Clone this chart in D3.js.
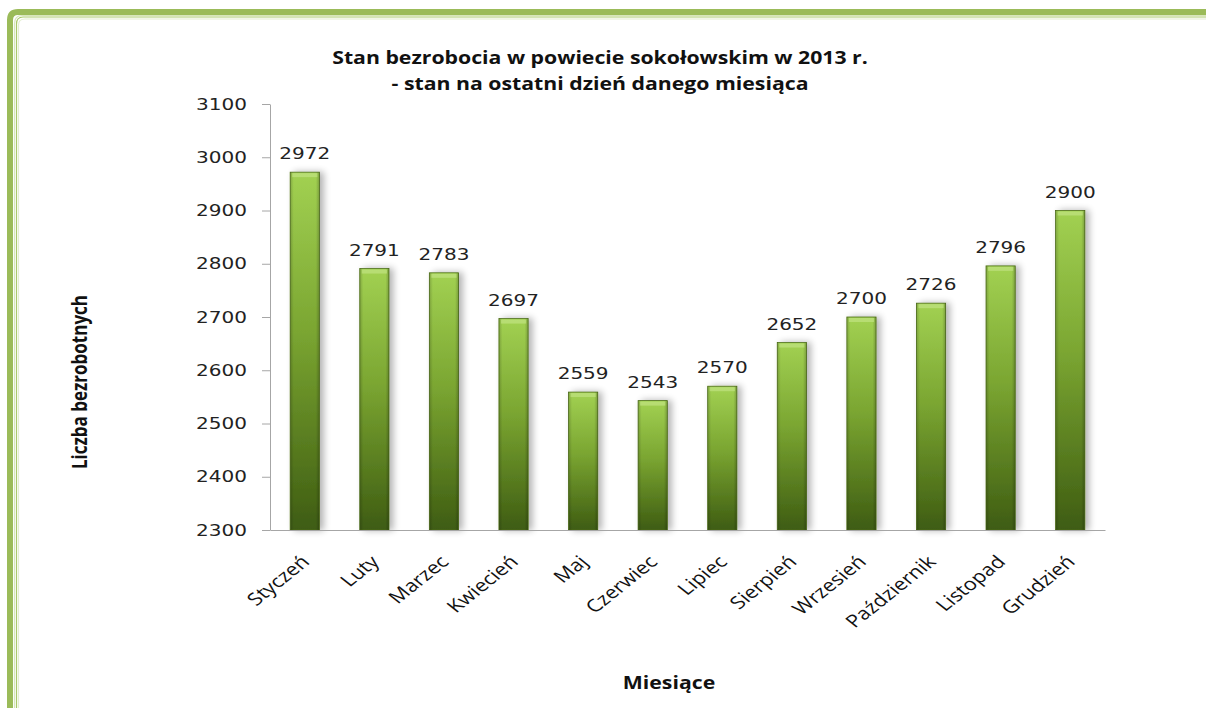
<!DOCTYPE html>
<meta charset="utf-8">
<style>
	body { margin: 0; background: #fff; }
	.tick text { font-family: "DejaVu Sans", Verdana, sans-serif; font-size: 16px; fill: #222; }
	.axis path, .axis line { stroke: #a6a6a6; }
	.cat { font-family: "Open Sans", "Liberation Sans", sans-serif; font-size: 17.5px; fill: #111; }
	.val { font-family: "DejaVu Sans", Verdana, sans-serif; font-size: 16px; fill: #222; }
	.ttl { font-family: "Open Sans", "Liberation Sans", sans-serif; font-size: 17px; font-weight: bold; fill: #111; }
</style>
<svg width="1206" height="708"></svg>
<script src="https://cdn.jsdelivr.net/npm/d3@7"></script>
<script>

var months = ["Styczeń", "Luty", "Marzec", "Kwiecień", "Maj", "Czerwiec", "Lipiec", "Sierpień", "Wrzesień", "Październik", "Listopad", "Grudzień"];
var counts = [2972, 2791, 2783, 2697, 2559, 2543, 2570, 2652, 2700, 2726, 2796, 2900];
var yTicks = [2300, 2400, 2500, 2600, 2700, 2800, 2900, 3000, 3100];
var titleLines = ["Stan bezrobocia w powiecie sokołowskim w 2013 r.", "- stan na ostatni dzień danego miesiąca"];

// the original picture is stretched sideways, so text is widened to match
var sx = 1.25;

var svg = d3.select("svg"),
	margin = {top: 104, right: 101, bottom: 178, left: 270},
	width = 1206 - margin.left - margin.right,
	height = 708 - margin.top - margin.bottom;

// frame
var defs = svg.append("defs");
svg.append("path")
	.attr("d", "M10,720 L10,20 Q10,12 18,12 L1220,12")
	.attr("fill", "none").attr("stroke", "#9bbb59").attr("stroke-width", 6);
svg.append("path")
	.attr("d", "M14.5,720 L14.5,24 Q14.5,15.5 22,15.5 L1220,15.5")
	.attr("fill", "none").attr("stroke", "#d8e6bc").attr("stroke-width", 1.2);
svg.append("path")
	.attr("d", "M16.5,720 L16.5,24 Q16.5,17 23,17 L1220,17")
	.attr("fill", "none").attr("stroke", "#a9c96a").attr("stroke-width", 1.2);
svg.append("path")
	.attr("d", "M18.5,720 L18.5,25 Q18.5,19 25,19 L1220,19")
	.attr("fill", "none").attr("stroke", "#e3eed0").attr("stroke-width", 1.2);

var grad = defs.append("linearGradient").attr("id", "barGrad")
	.attr("x1", 0).attr("y1", 0).attr("x2", 0).attr("y2", 1);
grad.append("stop").attr("offset", "0%").attr("stop-color", "#a2d152");
grad.append("stop").attr("offset", "45%").attr("stop-color", "#7aa531");
grad.append("stop").attr("offset", "100%").attr("stop-color", "#3e5c12");

var side = defs.append("linearGradient").attr("id", "sideGrad")
	.attr("x1", 0).attr("y1", 0).attr("x2", 1).attr("y2", 0);
side.append("stop").attr("offset", "0%").attr("stop-color", "#000").attr("stop-opacity", 0.18);
side.append("stop").attr("offset", "12%").attr("stop-color", "#000").attr("stop-opacity", 0);
side.append("stop").attr("offset", "88%").attr("stop-color", "#000").attr("stop-opacity", 0);
side.append("stop").attr("offset", "100%").attr("stop-color", "#000").attr("stop-opacity", 0.22);

var shadow = defs.append("filter").attr("id", "shadow")
	.attr("x", "-50%").attr("y", "-10%").attr("width", "200%").attr("height", "120%");
shadow.append("feGaussianBlur").attr("in", "SourceAlpha").attr("stdDeviation", 3.5);
shadow.append("feOffset").attr("dx", 4).attr("dy", 0).attr("result", "b");
shadow.append("feComponentTransfer").append("feFuncA").attr("type", "linear").attr("slope", 0.3);
var mrg = shadow.append("feMerge");
mrg.append("feMergeNode");
mrg.append("feMergeNode").attr("in", "SourceGraphic");

var g = svg.append("g").attr("transform", "translate(" + margin.left + "," + margin.top + ")");

var x = d3.scaleBand().domain(months).range([0, width]).paddingInner(0.58).paddingOuter(0.29);
var y = d3.scaleLinear().domain([2300, 3100]).range([height, 0]);

var bars = g.selectAll(".bar").data(counts).enter().append("g").attr("class", "bar");
bars.append("rect")
	.attr("x", function(d, i) { return x(months[i]); })
	.attr("y", function(d) { return y(d); })
	.attr("width", x.bandwidth())
	.attr("height", function(d) { return height - y(d); })
	.attr("fill", "url(#barGrad)")
	.attr("stroke", "#4f7019").attr("stroke-width", 0.8)
	.attr("filter", "url(#shadow)");
bars.append("rect")
	.attr("x", function(d, i) { return x(months[i]); })
	.attr("y", function(d) { return y(d); })
	.attr("width", x.bandwidth())
	.attr("height", function(d) { return height - y(d); })
	.attr("fill", "url(#sideGrad)");
bars.append("rect")
	.attr("x", function(d, i) { return x(months[i]) + 2; })
	.attr("y", function(d) { return y(d) + 1; })
	.attr("width", x.bandwidth() - 4)
	.attr("height", 4)
	.attr("fill", "#c6e68a").attr("opacity", 0.6);

bars.append("text")
	.attr("class", "val")
	.attr("transform", function(d, i) {
		return "translate(" + (x(months[i]) + x.bandwidth() / 2) + "," + (y(d) - 13) + ") scale(" + sx + ",1)";
	})
	.attr("text-anchor", "middle")
	.text(function(d) { return d; });

var yAxis = g.append("g").attr("class", "axis")
	.call(d3.axisLeft(y).tickValues(yTicks).tickFormat(d3.format("d")).tickSize(8).tickSizeOuter(0));
yAxis.selectAll(".tick text")
	.attr("x", -23 / sx)
	.attr("transform", "scale(" + sx + ",1)");

var xAxis = g.append("g").attr("class", "axis")
	.attr("transform", "translate(0," + height + ")")
	.call(d3.axisBottom(x).tickSize(0).tickFormat(""));

g.selectAll(".cat").data(months).enter().append("text")
	.attr("class", "cat")
	.attr("text-anchor", "end")
	.attr("transform", function(d) {
		return "translate(" + (x(d) + x.bandwidth() / 2 + 6) + "," + (height + 33) + ") scale(" + sx + ",1) rotate(-45)";
	})
	.text(function(d) { return d; });

svg.selectAll(".title").data(titleLines).enter().append("text")
	.attr("class", "ttl")
	.attr("transform", function(d, i) { return "translate(600," + (64 + i * 26) + ") scale(" + sx + ",1)"; })
	.attr("text-anchor", "middle")
	.text(function(d) { return d; });

svg.append("text").attr("class", "ttl")
	.attr("transform", "translate(87,382) scale(" + sx + ",1) rotate(-90)")
	.attr("text-anchor", "middle")
	.text("Liczba bezrobotnych");

svg.append("text").attr("class", "ttl")
	.attr("transform", "translate(669,689) scale(" + sx + ",1)")
	.attr("text-anchor", "middle")
	.text("Miesiące");

</script>
